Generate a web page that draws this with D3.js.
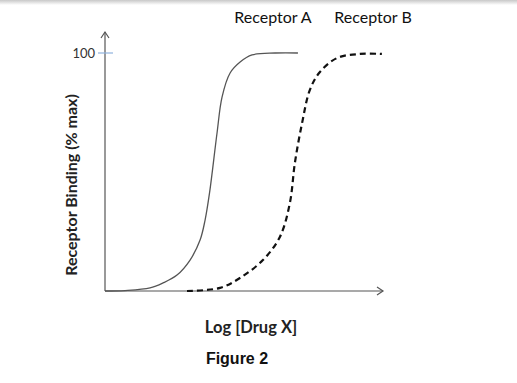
<!DOCTYPE html>
<html><head><meta charset="utf-8">
<script src="https://cdn.jsdelivr.net/npm/d3@7"></script>
<style>body{margin:0;background:#fff;}svg{display:block;}</style>
</head><body>
<script>
// Data (Log [Drug X] in arbitrary units 0-100, binding % max)
const seriesNames = ["Receptor A", "Receptor B"];
const doseA =    [0, 7.2, 16.2, 20.9, 25.9, 30.6, 34.2, 36, 37.6, 40.3, 42.1, 45, 48.6, 52.9, 61.2, 69.4];
const bindingA = [0, 0.2, 1.3, 3.4, 6.7, 13, 21.4, 29.8, 41.2, 66.4, 81.5, 91.6, 96.2, 99.2, 100, 100];
const doseB =    [29.5, 41.4, 48.6, 56.8, 62.9, 66.5, 68.3, 70.9, 73.7, 77.3, 83.5, 91.7, 99.6];
const bindingB = [0, 1.3, 5.5, 13, 22.7, 37, 53.8, 70.6, 84.5, 92, 97.9, 99.6, 99.6];
const yTicks = [100];
const xLabel = "Log [Drug X]";
const yLabel = "Receptor Binding (% max)";
const caption = "Figure 2";

const W = 517, H = 383;
const svg = d3.select("body").append("svg").attr("width", W).attr("height", H);

// top shadow band
const defs = svg.append("defs");
const g = defs.append("linearGradient").attr("id","sh").attr("x1",0).attr("x2",0).attr("y1",0).attr("y2",1);
g.append("stop").attr("offset","0%").attr("stop-color","#c8c8c8");
g.append("stop").attr("offset","100%").attr("stop-color","#ffffff");
svg.append("rect").attr("x",0).attr("y",0).attr("width",W).attr("height",5).attr("fill","url(#sh)");

const x = d3.scaleLinear().domain([0, 100]).range([105, 383]);
const y = d3.scaleLinear().domain([0, 100]).range([291, 53]);

// axes lines with arrows
const axisColor = "#555";
svg.append("line").attr("x1", x(0)).attr("x2", x(100)).attr("y1", y(0)).attr("y2", y(0))
  .attr("stroke", axisColor).attr("stroke-width", 1.2);
svg.append("line").attr("x1", x(0)).attr("x2", x(0)).attr("y1", y(0)).attr("y2", 32)
  .attr("stroke", axisColor).attr("stroke-width", 1.2);
svg.append("path").attr("d", `M${x(100)-6},${y(0)-4} L${x(100)},${y(0)} L${x(100)-6},${y(0)+4}`)
  .attr("fill","none").attr("stroke", axisColor).attr("stroke-width", 1.2);
svg.append("path").attr("d", `M${x(0)-4},38 L${x(0)},32 L${x(0)+4},38`)
  .attr("fill","none").attr("stroke", axisColor).attr("stroke-width", 1.2);

// y ticks
yTicks.forEach(t => {
  svg.append("line").attr("x1", x(0)-7).attr("x2", x(0)+8).attr("y1", y(t)).attr("y2", y(t))
    .attr("stroke", "#8fb3dd").attr("stroke-width", 1.2);
  svg.append("text").attr("x", x(0)-10).attr("y", y(t)).attr("dy", "0.35em")
    .attr("text-anchor", "end").attr("font-family", "Lato, 'Open Sans', sans-serif")
    .attr("font-size", 13).attr("fill", "#333").text(t);
});

const line = d3.line().x(d => x(d[0])).y(d => y(d[1])).curve(d3.curveCatmullRom.alpha(0.5));
svg.append("path").datum(d3.zip(doseA, bindingA)).attr("d", line)
  .attr("fill","none").attr("stroke","#555").attr("stroke-width",1.3);
svg.append("path").datum(d3.zip(doseB, bindingB)).attr("d", line)
  .attr("fill","none").attr("stroke","#111").attr("stroke-width",2.2).attr("stroke-dasharray","6,4");

// legend labels
const legX = [273, 373];
seriesNames.forEach((n, i) => {
  svg.append("text").attr("x", legX[i]).attr("y", 23).attr("text-anchor","middle")
    .attr("font-family","Lato, 'Open Sans', sans-serif").attr("font-size",16).attr("fill","#111").text(n);
});

svg.append("text").attr("x", 251).attr("y", 333).attr("text-anchor","middle")
  .attr("font-family","Lato, 'Open Sans', sans-serif").attr("font-weight","bold").attr("font-size",16.5)
  .attr("fill","#222").text(xLabel);
svg.append("text").attr("transform","translate(77,185) rotate(-90)").attr("text-anchor","middle")
  .attr("font-family","Lato, 'Open Sans', sans-serif").attr("font-weight","bold").attr("font-size",16)
  .attr("fill","#222").text(yLabel);
svg.append("text").attr("x", 237).attr("y", 364).attr("text-anchor","middle")
  .attr("font-family","'Liberation Sans', Arial, sans-serif").attr("font-weight","bold").attr("font-size",16)
  .attr("fill","#111").text(caption);
</script>
</body></html>
